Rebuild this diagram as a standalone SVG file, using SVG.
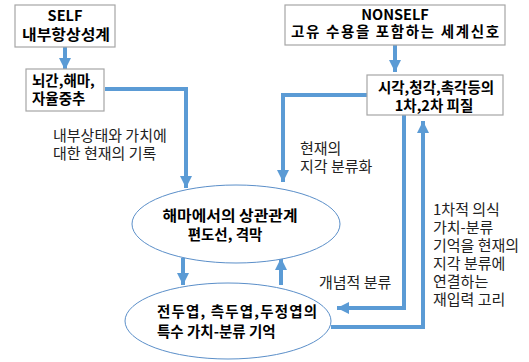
<svg xmlns="http://www.w3.org/2000/svg" width="529" height="362" viewBox="0 0 529 362">
<defs>
<style>
.box{fill:#fff;stroke:#a6a6a6;stroke-width:1.2}
.ell{fill:#fff;stroke:#5b8fc9;stroke-width:1}
.b{font-family:"Noto Sans CJK KR","Noto Sans",sans-serif;font-weight:bold;font-size:14.5px;fill:#000}
.r{font-family:"Noto Sans CJK KR","Noto Sans",sans-serif;font-size:15px;fill:#222}
.c{fill:none;stroke:#5b9bd5;stroke-width:4}
</style>
<marker id="ah" markerUnits="userSpaceOnUse" markerWidth="14" markerHeight="14" viewBox="0 0 14 14" refX="12" refY="7" orient="auto">
<path d="M0,1 L12,7 L0,13 Z" fill="#5b9bd5"/>
</marker>
</defs>
<rect width="529" height="362" fill="#fff"/>
<g id="connectors">
<path class="c" d="M65,47 V70" marker-end="url(#ah)"/>
<path class="c" d="M105,89 H186 V188" marker-end="url(#ah)"/>
<path class="c" d="M395,45 V72" marker-end="url(#ah)"/>
<path class="c" d="M367,95 H283 V182" marker-end="url(#ah)"/>
<path class="c" d="M404,115 V308 H337" marker-end="url(#ah)"/>
<path class="c" d="M331,327 H423 V121" marker-end="url(#ah)"/>
<path class="c" d="M183,258 V285" marker-end="url(#ah)"/>
<path class="c" d="M281,285 V258" marker-end="url(#ah)"/>
</g>
<g id="self">
<rect class="box" x="15" y="5" width="100" height="42"/>
<text class="b" x="65" y="21" text-anchor="middle">SELF</text>
<text class="b" x="66" y="40" text-anchor="middle" textLength="88" lengthAdjust="spacingAndGlyphs">내부항상성계</text>
</g>
<g id="brainstem">
<rect class="box" x="26" y="69" width="78" height="42"/>
<text class="b" x="32" y="86">뇌간,해마,</text>
<text class="b" x="32" y="104">자율중추</text>
</g>
<g id="nonself">
<rect class="box" x="285" y="5" width="220" height="40"/>
<text class="b" x="395" y="20" text-anchor="middle">NONSELF</text>
<text class="b" x="395" y="37" text-anchor="middle" textLength="208" lengthAdjust="spacing">고유 수용을 포함하는 세계신호</text>
</g>
<g id="cortex">
<rect class="box" x="367" y="75" width="136" height="40"/>
<text class="b" x="436" y="93" text-anchor="middle">시각,청각,촉각등의</text>
<text class="b" x="434" y="111" text-anchor="middle">1차,2차 피질</text>
</g>
<g id="hippocampus">
<ellipse class="ell" cx="236" cy="224" rx="104" ry="39"/>
<text class="b" x="230" y="221" text-anchor="middle" textLength="135" lengthAdjust="spacingAndGlyphs">해마에서의 상관관계</text>
<text class="b" x="225" y="240" text-anchor="middle">편도선, 격막</text>
</g>
<g id="memory">
<ellipse class="ell" cx="228" cy="321" rx="103" ry="38"/>
<text class="b" x="157" y="317" textLength="160" lengthAdjust="spacing">전두엽, 측두엽,두정엽의</text>
<text class="b" x="157" y="337">특수 가치-분류 기억</text>
</g>
<g id="labels">
<text class="r" x="53" y="141">내부상태와 가치에</text>
<text class="r" x="53" y="159">대한 현재의 기록</text>
<text class="r" x="300" y="154">현재의</text>
<text class="r" x="300" y="172">지각 분류화</text>
<text class="r" x="319" y="288">개념적 분류</text>
<text class="r" x="433" y="215">1차적 의식</text>
<text class="r" x="433" y="233">가치-분류</text>
<text class="r" x="433" y="251">기억을 현재의</text>
<text class="r" x="433" y="269">지각 분류에</text>
<text class="r" x="433" y="287">연결하는</text>
<text class="r" x="433" y="305">재입력 고리</text>
</g>
</svg>
